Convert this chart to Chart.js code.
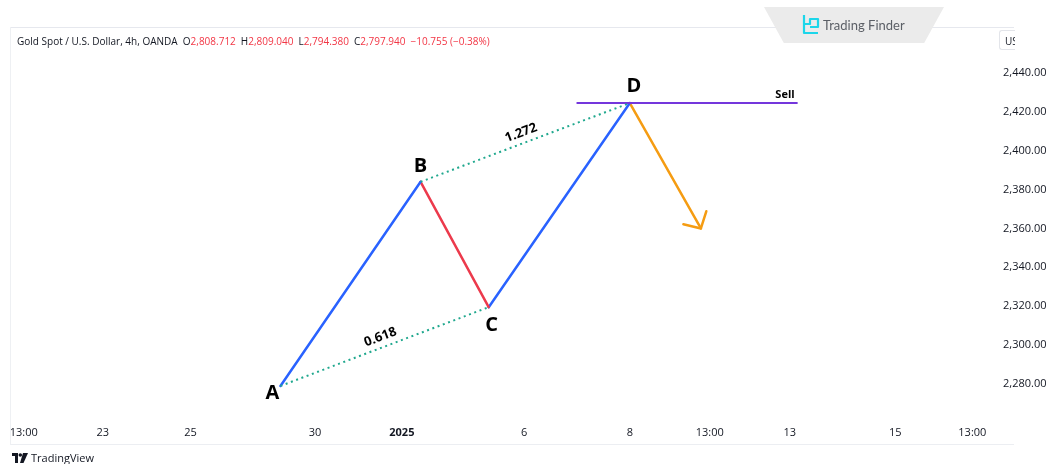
<!DOCTYPE html>
<html>
<head>
<meta charset="utf-8">
<script src="https://cdn.jsdelivr.net/npm/chart.js@4.4.1/dist/chart.umd.min.js"></script>
<style>
  html,body{margin:0;padding:0;background:#ffffff;width:1047px;height:464px;overflow:hidden;font-family:"Open Sans","Liberation Sans",sans-serif;}
  #wrap{position:relative;width:1047px;height:464px;}
  canvas{position:absolute;left:0;top:0;}
  .frameTop{position:absolute;left:10px;top:27px;width:1004px;height:1px;background:#e6e8ee;}
  .frameBot{position:absolute;left:10px;top:444px;width:1004px;height:1px;background:#eceef2;}
  .frameLeft{position:absolute;left:10px;top:27px;width:1px;height:418px;background:#eef0f3;}
  #header{position:absolute;left:17px;top:34px;font-size:10px;color:#131722;white-space:nowrap;}
  #header .r{color:#f23645;}
  #header .g{margin-left:5px;}
  #tab{position:absolute;left:764px;top:7px;width:180px;height:36px;background:#ebebeb;clip-path:polygon(0 0,100% 0,89% 100%,11% 100%);}
  #tabText{position:absolute;left:823px;top:17px;font-size:13px;color:#5b5f66;font-family:"Lato","Open Sans",sans-serif;}
  #tabLogo{position:absolute;left:801px;top:13px;}
  #ubox{position:absolute;left:999px;top:30px;width:16px;height:20px;border:1px solid #e3e5ea;border-right:none;border-radius:3px 0 0 3px;background:#fff;overflow:hidden;font-size:10px;color:#131722;line-height:20px;padding-left:5px;box-sizing:border-box;}
  #footer{position:absolute;left:12px;top:450px;font-size:11px;color:#131722;display:flex;align-items:center;gap:3px;}
</style>
</head>
<body>
<div id="wrap">
  <canvas id="c" width="1047" height="464"></canvas>
  <div class="frameTop"></div>
  <div class="frameBot"></div>
  <div class="frameLeft"></div>
  <div id="header">Gold Spot / U.S. Dollar, 4h, OANDA&nbsp; O<span class="r">2,808.712</span><span class="g">H</span><span class="r">2,809.040</span><span class="g">L</span><span class="r">2,794.380</span><span class="g">C</span><span class="r">2,797.940</span><span class="r g">−10.755 (−0.38%)</span></div>
  <div id="tab"></div>
  <svg id="tabLogo" width="20" height="24" viewBox="0 0 20 24">
    <path d="M3 2 V20 H17 M3 11 H9 V6 H17 V14 H9" fill="none" stroke="#1cd6ea" stroke-width="2.2" stroke-linejoin="round"/>
  </svg>
  <div id="tabText">Trading Finder</div>
  <div id="ubox">USD</div>
  <div id="footer">
    <svg width="16" height="10" viewBox="0 0 16 10"><path d="M0 0 H6 V10 H3 V3 H0 Z" fill="#131722"/><circle cx="8.3" cy="2" r="1.8" fill="#131722"/><path d="M11 0 H16 L11.5 10 H8 Z" fill="#131722"/></svg>
    <span>TradingView</span>
  </div>
</div>
<script>
// ---- data (x in 4h bar units, y in USD) ----
const pointNames = ['A', 'B', 'C', 'D'];
const pointBar = [27.4, 41.6, 48.5, 62.8];
const pointPrice = [2279, 2384, 2319.5, 2424.5];
const targetBar = 70.0;
const targetPrice = 2360;
const sellBar = [57.4, 79.8];
const sellPrice = 2424.5;
const ratioLabels = ['0.618', '1.272'];
const sellLabel = 'Sell';
const yTickValues = [2280, 2300, 2320, 2340, 2360, 2380, 2400, 2420, 2440];
const xTickBars = [1.4, 9.4, 18.3, 30.9, 39.7, 52.1, 62.8, 70.9, 79.0, 89.7, 97.5];
const xTickLabels = ['13:00', '23', '25', '30', '2025', '6', '8', '13:00', '13', '15', '13:00'];
const boldTick = '2025';

// ---- styles ----
const BLUE = '#2962ff', RED = '#ec3a4c', ORANGE = '#f59c12', TEAL = '#20a88e', PURPLE = '#7436dc';

const P = i => ({x: pointBar[i], y: pointPrice[i]});
const seg = (a, b, color, extra) => Object.assign({
  data: [a, b], borderColor: color, borderWidth: 2.5, pointRadius: 0, fill: false, tension: 0, borderCapStyle: 'round'
}, extra || {});

const datasets = [
  seg(P(0), P(2), TEAL, {borderWidth: 2, borderDash: [2, 3.6], borderCapStyle: 'butt'}),
  seg(P(1), P(3), TEAL, {borderWidth: 2, borderDash: [2, 3.6], borderCapStyle: 'butt'}),
  seg({x: sellBar[0], y: sellPrice}, {x: sellBar[1], y: sellPrice}, PURPLE, {borderWidth: 2, borderCapStyle: 'butt'}),
  seg(P(0), P(1), BLUE),
  seg(P(1), P(2), RED),
  seg(P(2), P(3), BLUE),
  seg(P(3), {x: targetBar, y: targetPrice}, ORANGE)
];

const annot = {
  id: 'annot',
  afterDatasetsDraw(chart) {
    const {ctx, scales: {x, y}} = chart;
    const px = i => x.getPixelForValue(pointBar[i]);
    const py = i => y.getPixelForValue(pointPrice[i]);
    ctx.save();
    ctx.fillStyle = '#000';
    ctx.font = 'bold 20px "Open Sans", "Liberation Sans", sans-serif';
    ctx.textAlign = 'center';
    ctx.textBaseline = 'middle';
    const offs = [[-8, 7], [0, -15], [3, 18], [4, -17]];
    pointNames.forEach((n, i) => ctx.fillText(n, px(i) + offs[i][0], py(i) + offs[i][1]));
    ctx.font = 'bold 13px "Open Sans", "Liberation Sans", sans-serif';
    [[0, 2], [1, 3]].forEach(([a, b], k) => {
      const x1 = px(a), y1 = py(a), x2 = px(b), y2 = py(b);
      const ang = Math.atan2(y2 - y1, x2 - x1);
      const mx = (x1 + x2) / 2, my = (y1 + y2) / 2;
      ctx.save();
      ctx.translate(mx - 1, my - 1);
      ctx.rotate(ang);
      ctx.fillText(ratioLabels[k], 0, -9);
      ctx.restore();
    });
    ctx.font = 'bold 11px "Open Sans", "Liberation Sans", sans-serif';
    ctx.textAlign = 'right';
    ctx.textBaseline = 'alphabetic';
    ctx.fillText(sellLabel, x.getPixelForValue(sellBar[1]) - 3, y.getPixelForValue(sellPrice) - 5);
    const tx = x.getPixelForValue(targetBar), ty = y.getPixelForValue(targetPrice);
    const back = Math.atan2(py(3) - ty, px(3) - tx);
    ctx.strokeStyle = ORANGE;
    ctx.lineWidth = 2.5;
    ctx.lineCap = 'round';
    ctx.lineJoin = 'round';
    const L = 18, spread = 0.82;
    ctx.beginPath();
    ctx.moveTo(tx + L * Math.cos(back - spread), ty + L * Math.sin(back - spread));
    ctx.lineTo(tx, ty);
    ctx.lineTo(tx + L * Math.cos(back + spread), ty + L * Math.sin(back + spread));
    ctx.stroke();
    ctx.restore();
  }
};

new Chart(document.getElementById('c'), {
  type: 'line',
  data: {datasets},
  plugins: [annot],
  options: {
    responsive: false,
    animation: false,
    devicePixelRatio: 1,
    layout: {padding: {left: 10, top: 28, right: 0, bottom: 19}},
    plugins: {legend: {display: false}, tooltip: {enabled: false}},
    elements: {line: {tension: 0}},
    scales: {
      x: {
        type: 'linear', min: 0, max: 100,
        grid: {display: false, drawTicks: false}, border: {display: false},
        afterBuildTicks: s => { s.ticks = xTickBars.map(v => ({value: v})); },
        afterFit: s => { s.height = 27; },
        ticks: {
          autoSkip: false, maxRotation: 0, padding: 8, color: '#131722',
          font: c => ({size: 11, family: '"Open Sans", "Liberation Sans", sans-serif',
            weight: (c.tick && xTickLabels[xTickBars.indexOf(c.tick.value)] === boldTick) ? 'bold' : 'normal'}),
          callback: v => xTickLabels[xTickBars.indexOf(v)]
        }
      },
      y: {
        type: 'linear', position: 'right', min: 2262.5, max: 2463.1,
        grid: {display: false, drawTicks: false}, border: {display: false},
        afterBuildTicks: s => { s.ticks = yTickValues.map(v => ({value: v})); },
        afterFit: s => { s.width = 50; },
        ticks: {
          padding: 6, color: '#131722', autoSkip: false,
          font: {size: 11, family: '"Open Sans", "Liberation Sans", sans-serif'},
          callback: v => v.toLocaleString('en-US', {minimumFractionDigits: 3, maximumFractionDigits: 3})
        }
      }
    }
  }
});
</script>
</body>
</html>
